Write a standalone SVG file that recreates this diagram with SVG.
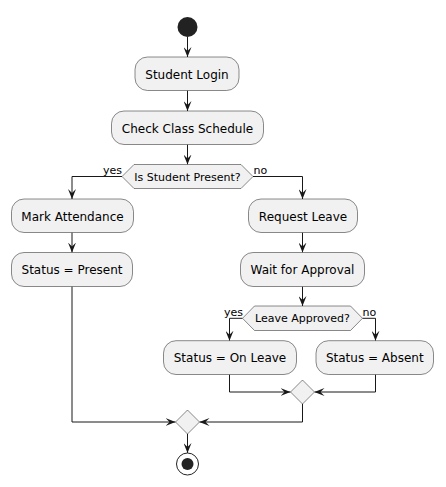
<svg xmlns="http://www.w3.org/2000/svg" width="446" height="487" viewBox="0 0 446 487">
<style>
.box{fill:#F1F1F1;stroke:#181818;stroke-width:0.5}
.t{font-family:"DejaVu Sans",sans-serif;font-size:12px;fill:#000;text-anchor:middle}
.d{font-family:"DejaVu Sans",sans-serif;font-size:11px;fill:#000;text-anchor:middle}
.l{font-family:"DejaVu Sans",sans-serif;font-size:11px;fill:#000}
.c{fill:none;stroke:#181818;stroke-width:1}
.a{marker-end:url(#arr)}
</style>
<defs>
<marker id="arr" viewBox="0 0 10 8" refX="10" refY="4" markerWidth="10" markerHeight="8" markerUnits="userSpaceOnUse" orient="auto">
<path d="M0,0 L10,4 L0,8 L4,4 Z" fill="#181818"/>
</marker>
</defs>
<rect width="446" height="487" fill="#FFFFFF"/>
<g id="connectors">
<path class="c a" d="M187.5,37 L187.5,57"/>
<path class="c a" d="M187.5,90.5 L187.5,111"/>
<path class="c a" d="M187.5,144.5 L187.5,164.5"/>
<path class="c a" d="M122,176.5 L72,176.5 L72,199"/>
<path class="c a" d="M253,176.5 L302.5,176.5 L302.5,199"/>
<path class="c a" d="M72,232.5 L72,252.5"/>
<path class="c a" d="M302.5,232.5 L302.5,252.5"/>
<path class="c a" d="M302.5,286.5 L302.5,306"/>
<path class="c a" d="M242.5,318.3 L229.5,318.3 L229.5,340.7"/>
<path class="c a" d="M362.5,318.3 L375.5,318.3 L375.5,340.7"/>
<path class="c a" d="M229.5,374.5 L229.5,392 L290.5,392"/>
<path class="c a" d="M375.5,374.5 L375.5,392 L314.5,392"/>
<path class="c a" d="M302.5,404 L302.5,422 L199.5,422"/>
<path class="c a" d="M72,286.5 L72,422 L175.5,422"/>
<path class="c a" d="M187.5,434 L187.5,453"/>
<text class="l" x="103" y="174">yes</text>
<text class="l" x="253.5" y="174">no</text>
<text class="l" x="224" y="316">yes</text>
<text class="l" x="362.5" y="316">no</text>
</g>
<g id="start"><circle cx="187.5" cy="27" r="10" fill="#222222"/></g>
<g id="studentLogin"><rect class="box" x="135" y="57" width="104" height="33.5" rx="12.5"/><text class="t" x="187" y="78.5">Student Login</text></g>
<g id="checkSchedule"><rect class="box" x="111.5" y="111" width="152" height="33.5" rx="12.5"/><text class="t" x="187.5" y="132.5">Check Class Schedule</text></g>
<g id="isPresent"><polygon class="box" points="122,176.5 134,164.5 241,164.5 253,176.5 241,188.5 134,188.5"/><text class="d" x="187.5" y="180.5">Is Student Present?</text></g>
<g id="markAttendance"><rect class="box" x="11.5" y="199" width="122" height="33.5" rx="12.5"/><text class="t" x="72.5" y="220.5">Mark Attendance</text></g>
<g id="statusPresent"><rect class="box" x="11.5" y="252.5" width="121" height="34" rx="12.5"/><text class="t" x="72" y="274">Status = Present</text></g>
<g id="requestLeave"><rect class="box" x="248.5" y="199" width="109" height="33.5" rx="12.5"/><text class="t" x="303" y="220.5">Request Leave</text></g>
<g id="waitApproval"><rect class="box" x="240.5" y="252.5" width="124" height="34" rx="12.5"/><text class="t" x="302.5" y="274">Wait for Approval</text></g>
<g id="leaveApproved"><polygon class="box" points="242.5,318.3 254.5,306 350.5,306 362.5,318.3 350.5,330.5 254.5,330.5"/><text class="d" x="302.5" y="322.3">Leave Approved?</text></g>
<g id="statusOnLeave"><rect class="box" x="163.5" y="340.7" width="133" height="33.8" rx="12.5"/><text class="t" x="230" y="362">Status = On Leave</text></g>
<g id="statusAbsent"><rect class="box" x="316" y="340.7" width="117.5" height="33.8" rx="12.5"/><text class="t" x="374.8" y="362">Status = Absent</text></g>
<g id="merge1"><polygon class="box" points="302.5,380 314.5,392 302.5,404 290.5,392"/></g>
<g id="merge2"><polygon class="box" points="187.5,410 199.5,422 187.5,434 175.5,422"/></g>
<g id="end"><circle cx="187.5" cy="464" r="11" fill="none" stroke="#222222" stroke-width="1"/><circle cx="187.5" cy="464" r="6" fill="#222222"/></g>
</svg>
